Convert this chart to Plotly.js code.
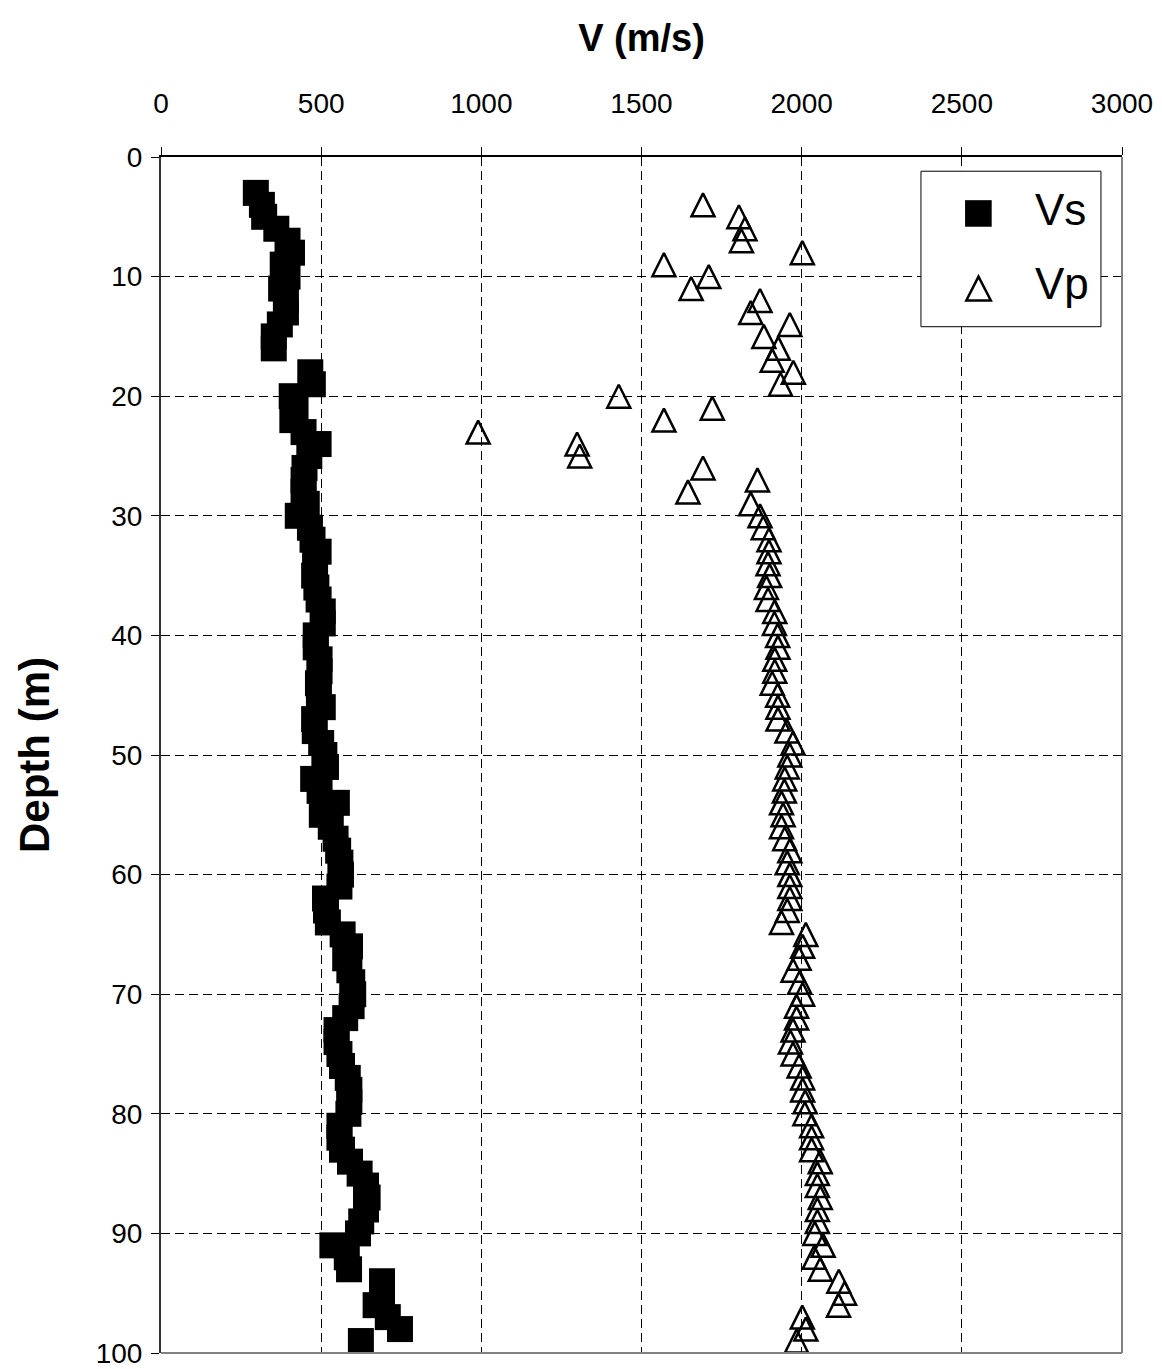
<!DOCTYPE html>
<html><head><meta charset="utf-8">
<script src="https://cdn.plot.ly/plotly-3.0.1.min.js"></script>
<style>html,body{margin:0;padding:0;background:#fff}#chart{width:1162px;height:1369px}</style>
</head><body><div id="chart"></div>
<script>
// ---- data ----
const vsDepth = [3,4,5,6,7,8,9,10,11,12,13,14,15,16,
  18,19,20,21,22,23,24,25,26,27,28,29,30,31,32,33,34,35,36,37,38,39,40,
  41,42,43,44,45,46,47,48,49,50,51,52,53,54,55,56,57,58,59,60,
  61,62,63,64,65,66,67,68,69,70,71,72,73,74,75,76,77,78,79,80,
  81,82,83,84,85,86,87,88,89,90,91,92,93,94,95,96,97,98,99];
const vsVelocity = [296,315,322,360,395,409,380,395,375,390,390,371,352,352,
  466,474,408,420,410,445,492,463,448,445,445,455,427,465,473,492,481,478,485,492,505,505,483,
  483,495,495,490,493,505,478,480,500,510,515,475,495,549,502,530,545,553,560,562,
  557,512,515,521,567,590,575,588,597,600,595,575,548,548,557,565,583,588,588,585,
  557,557,565,590,620,640,645,640,625,615,535,580,587,690,690,670,708,746,624];

const vpDepth = [4,5,6,7,8,9,10,11,12,13,14,15,16,17,18,19,20,
  21,22,23,24,25,26,27,28,29,30,31,32,33,34,35,36,37,38,39,40,
  41,42,43,44,45,46,47,48,49,50,51,52,53,54,55,56,57,58,59,60,
  61,62,63,64,65,66,67,68,69,70,71,72,73,74,75,76,77,78,79,80,
  81,82,83,84,85,86,87,88,89,90,91,92,93,94,95,96,97,98,99];
const vpVelocity = [1692,1804,1823,1812,2002,1570,1710,1655,1870,1841,1963,1882,1927,1908,1974,1934,1429,
  1721,1570,990,1299,1307,1692,1862,1645,1841,1870,1880,1898,1898,1895,1900,1890,1895,1916,1915,1925,
  1926,1916,1916,1908,1925,1926,1926,1954,1973,1963,1955,1947,1946,1937,1942,1937,1947,1963,1955,1963,
  1963,1963,1955,1937,2013,2003,1992,1973,1994,2003,1984,1984,1973,1965,1973,1992,2003,2003,2011,2010,
  2031,2031,2031,2058,2049,2049,2058,2049,2049,2041,2067,2039,2058,2116,2134,2115,2002,2013,1984];

const xTickValues = [0,500,1000,1500,2000,2500,3000];
const yTickValues = [0,10,20,30,40,50,60,70,80,90,100];
const seriesNames = ['Vs','Vp'];
const xTitle = 'V (m/s)';
const yTitle = 'Depth (m)';

// ---- chart ----
const FONT = 'Liberation Sans, Arial, Helvetica, sans-serif';
const triSize = 23;

const traces = [
  {
    type: 'scatter', mode: 'markers', name: seriesNames[0],
    x: vsVelocity, y: vsDepth,
    marker: {symbol: 'square', size: 26, color: '#000', line: {width: 0}},
    hoverinfo: 'x+y'
  },
  {
    type: 'scatter', mode: 'markers', name: seriesNames[1],
    x: vpVelocity, y: vpDepth,
    marker: {symbol: 'arrow-down-open', angle: 180, standoff: triSize/2, size: triSize,
             color: '#000', line: {width: 2.5, color: '#000'}},
    hoverinfo: 'x+y'
  }
];

const axisCommon = {
  ticks: 'outside', ticklen: 8, tickwidth: 1, tickcolor: '#000',
  showgrid: true, gridcolor: '#000', gridwidth: 1, griddash: '9px,5px',
  zeroline: false, showline: true, linewidth: 2,
  ticklabeloverflow: 'allow',
  tickfont: {family: FONT, size: 28, color: '#000'}
};

const layout = {
  width: 1162, height: 1369,
  margin: {l: 161, r: 40, t: 157, b: 16, pad: 0},
  paper_bgcolor: '#fff', plot_bgcolor: '#fff',
  showlegend: false,
  font: {family: FONT, color: '#000'},
  xaxis: Object.assign({}, axisCommon, {
    side: 'top', range: [0, 3000], tickmode: 'array', tickvals: xTickValues,
    linecolor: '#000', ticklabelstandoff: 23,
    title: {text: xTitle, font: {family: FONT, size: 38, weight: 700, color: '#000'}, standoff: 24}
  }),
  yaxis: Object.assign({}, axisCommon, {
    range: [100, 0], tickmode: 'array', tickvals: yTickValues,
    linecolor: '#333', ticklabelstandoff: 3,
    title: {text: yTitle, font: {family: FONT, size: 42, weight: 700, color: '#000'}, standoff: 33}
  }),
  shapes: [
    // plot frame (right and bottom, grey)
    {type: 'line', xref: 'paper', yref: 'paper', x0: 1, x1: 1, y0: 0, y1: 1, line: {color: '#808080', width: 2}, layer: 'above'},
    {type: 'line', xref: 'paper', yref: 'paper', x0: 0, x1: 1, y0: 0, y1: 0, line: {color: '#808080', width: 2}, layer: 'above'},
    // legend box
    {type: 'rect', xref: 'paper', yref: 'paper', x0: 0.7908, x1: 0.9781, y0: 0.8581, y1: 0.9881,
     fillcolor: '#fff', line: {color: '#000', width: 1}, layer: 'above'},
    // legend swatch: square
    {type: 'rect', xref: 'paper', yref: 'paper', x0: 0.8367, x1: 0.8644, y0: 0.9417, y1: 0.9639,
     fillcolor: '#000', line: {width: 0}, layer: 'above'},
    // legend swatch: open triangle
    {type: 'path', xref: 'paper', yref: 'paper',
     path: 'M 0.8507 0.9000 L 0.8635 0.8800 L 0.8380 0.8800 Z',
     fillcolor: '#fff', line: {color: '#000', width: 2.5}, layer: 'above'}
  ],
  annotations: [
    {xref: 'paper', yref: 'paper', x: 0.9074, y: 0.9564, xanchor: 'left', yanchor: 'middle',
     text: seriesNames[0], showarrow: false, font: {family: FONT, size: 44, color: '#000'}},
    {xref: 'paper', yref: 'paper', x: 0.9074, y: 0.8939, xanchor: 'left', yanchor: 'middle',
     text: seriesNames[1], showarrow: false, font: {family: FONT, size: 44, color: '#000'}}
  ]
};

Plotly.newPlot('chart', traces, layout, {displayModeBar: false, staticPlot: true});
</script>
</body></html>
